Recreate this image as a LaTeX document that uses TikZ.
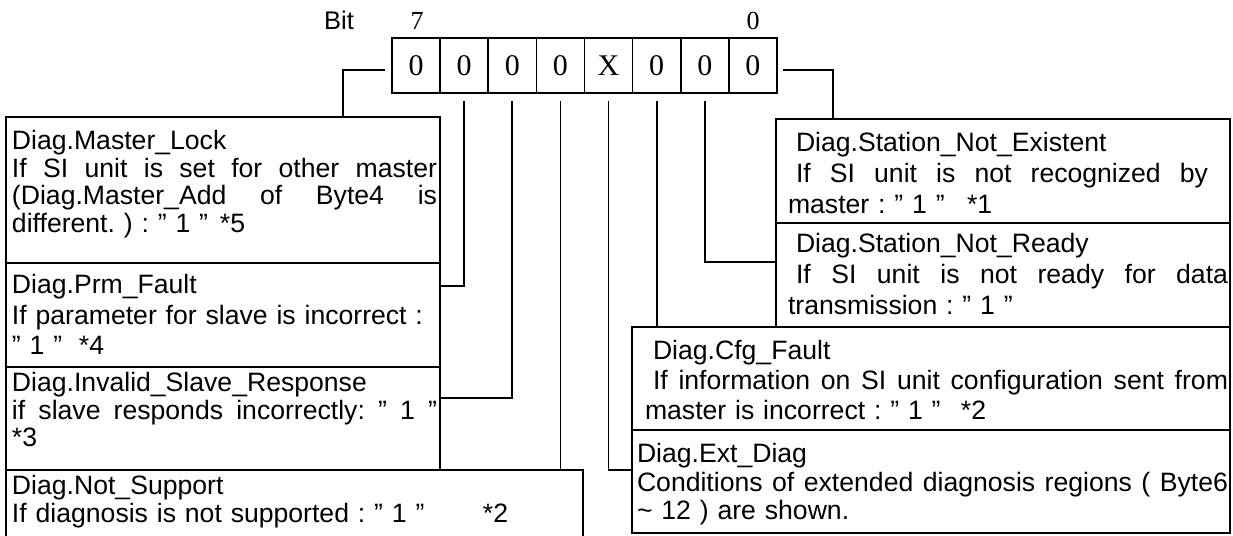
\documentclass[tikz,border=0pt]{standalone}
\usepackage{fontspec}
\setmainfont{Liberation Sans}
\newfontfamily\digfont{Liberation Serif}
\newcommand\jline[2]{\leavevmode\hbox to #1{\spaceskip=\fontdimen2\font plus 1fil\relax#2}}
\newcommand\tabto[2]{\leavevmode\makebox[#1][l]{#2}}
\newcommand\tf[1]{\fontsize{26.6}{#1}\selectfont\frenchspacing}
\tikzset{
  box/.style={draw, line width=1.7pt, anchor=north west, inner sep=0pt, outer sep=0pt},
  txt/.style={anchor=north west, inner sep=0pt, outer sep=0pt, align=left},
  cell/.style={draw, line width=1.7pt, minimum width=48.125pt, minimum height=55pt, inner sep=0pt, outer sep=0pt, font=\digfont\fontsize{30}{30}\selectfont},
  conn/.style={line width=1.7pt},
  lbl/.style={inner sep=0pt}
}
\begin{document}
\frenchspacing
\begin{tikzpicture}[x=1pt,y=-1pt]
\useasboundingbox (0,0) rectangle (1233,535);
% header labels
\node[lbl, font=\fontsize{25.5}{25.5}\selectfont] (bitlbl) at (339,20) {Bit};
\node[lbl, font=\digfont\fontsize{26}{26}\selectfont] (hi) at (417,21) {7};
\node[lbl, font=\digfont\fontsize{26}{26}\selectfont] (lo) at (753,21) {0};
% bit cells
\foreach \v [count=\i from 0] in {0,0,0,0,X,0,0,0}
  \node[cell] (cell\i) at ({392+48.125*(\i+0.5)},65.5) {\v};
% left boxes
\node[box, minimum width=434pt, minimum height=146pt] (ml) at (6,117) {};
\node[box, minimum width=434pt, minimum height=104pt] (pf) at (6,263) {};
\node[box, minimum width=434pt, minimum height=103pt] (isr) at (6,367) {};
\node[box, minimum width=577pt, minimum height=90pt] (ns) at (6,470) {};
% right boxes
\node[box, minimum width=454pt, minimum height=104pt] (sne) at (776,119) {};
\node[box, minimum width=454pt, minimum height=104pt] (snr) at (776,223) {};
\node[box, minimum width=598pt, minimum height=103pt] (cfg) at (632,327) {};
\node[box, minimum width=598pt, minimum height=103pt] (ext) at (632,430) {};
% texts
\node[txt, text width=425pt, font=\tf{27.5}] (mlt) at (12,130.5) {Diag.Master\_Lock\\
\jline{425pt}{If SI unit is set for other master}\\
\jline{425pt}{(Diag.Master\_Add of Byte4 is}\\
\tabto{208pt}{different. ) : ” 1 ”}*5};
\node[txt, text width=425pt, font=\tf{30.5}] (pft) at (12,274.5) {Diag.Prm\_Fault\\
If parameter for slave is incorrect :\\
\tabto{67pt}{” 1 ”}*4};
\node[txt, text width=425pt, font=\tf{27.5}] (isrt) at (12,372.5) {Diag.Invalid\_Slave\_Response\\
\jline{425pt}{if slave responds incorrectly: ” 1 ”}\\
{*3}};
\node[txt, text width=565pt, font=\tf{27.5}] (nst) at (12,475.5) {Diag.Not\_Support\\
\tabto{471pt}{If diagnosis is not supported : ” 1 ”}*2};
\node[txt, text width=440pt, font=\tf{31}] (snet) at (788,132.5) {\hspace*{8pt}Diag.Station\_Not\_Existent\\
\hspace*{8pt}\jline{412pt}{If SI unit is not recognized by}\\
\tabto{179pt}{master : ” 1 ”}*1};
\node[txt, text width=440pt, font=\tf{31}] (snrt) at (788,233.5) {\hspace*{8pt}Diag.Station\_Not\_Ready\\
\hspace*{8pt}\jline{432pt}{If SI unit is not ready for data}\\
transmission : ” 1 ”};
\node[txt, text width=583pt, font=\tf{30}] (cfgt) at (645,340.5) {\hspace*{8pt}Diag.Cfg\_Fault\\
\hspace*{8pt}\jline{575pt}{If information on SI unit configuration sent from}\\
\tabto{316pt}{master is incorrect : ” 1 ”}*2};
\node[txt, text width=591pt, font=\tf{28.5}] (extt) at (637,443.5) {Diag.Ext\_Diag\\
\jline{591pt}{Conditions of extended diagnosis regions ( Byte6}\\
\textasciitilde{} 12 ) are shown.};
% connectors
\draw[conn] ([xshift=-7pt,yshift=-4.5pt]cell0.west) -| ([xshift=337pt]ml.north west);
\draw[conn] ([yshift=-8pt]cell1.south) |- ([yshift=-23pt]pf.north east);
\draw[conn] ([yshift=-8pt]cell2.south) |- ([yshift=-31pt]isr.north east);
\draw[conn] ([yshift=-8pt]cell3.south) -- (cell3.south |- ns.north);
\draw[conn] ([yshift=-8pt]cell4.south) |- ([yshift=-40pt]ext.north west);
\draw[conn] ([yshift=-8pt]cell5.south) -- (cell5.south |- cfg.north);
\draw[conn] ([yshift=-8pt]cell6.south) |- ([yshift=-39pt]snr.north west);
\draw[conn] ([xshift=6pt,yshift=-4.5pt]cell7.east) -| ([xshift=57pt]sne.north west);
\end{tikzpicture}
\end{document}
